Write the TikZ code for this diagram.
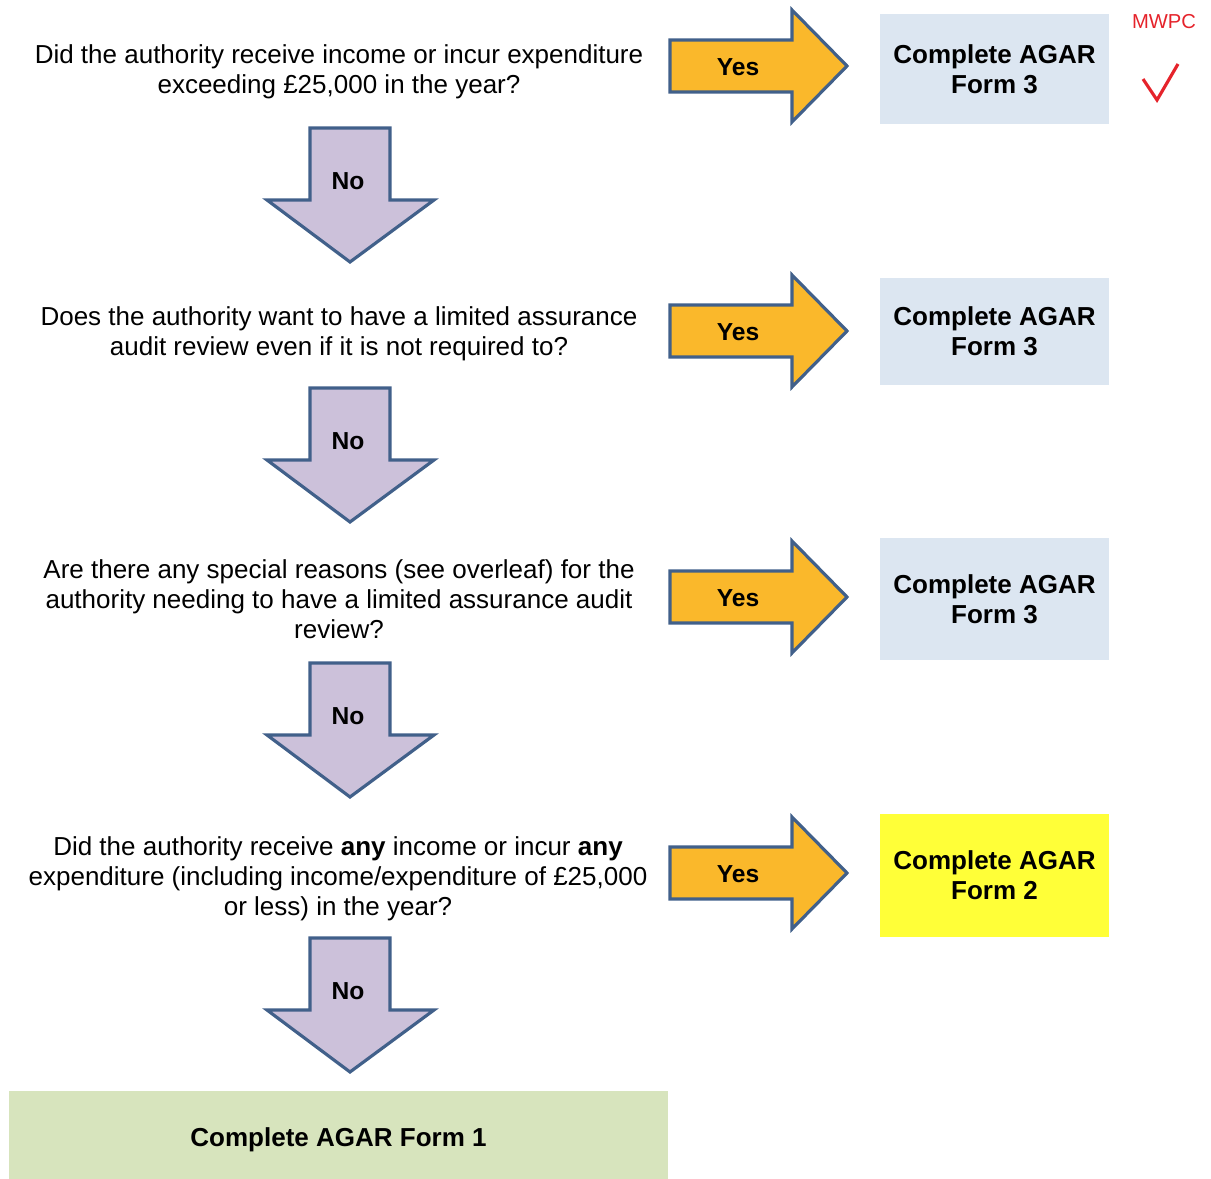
\documentclass[tikz,border=0pt]{standalone}
\usepackage{fontspec}
\setmainfont{Liberation Sans}
\usetikzlibrary{positioning}

\definecolor{arrowline}{HTML}{41608A}
\definecolor{yesfill}{HTML}{FAB82B}
\definecolor{nofill}{HTML}{CCC1DA}
\definecolor{formblue}{HTML}{DCE6F1}
\definecolor{formgreen}{HTML}{D7E4BD}
\definecolor{formyellow}{HTML}{FFFF38}
\definecolor{markred}{HTML}{E5232B}

\tikzset{
  question/.style={align=center, font=\fontsize{14.8}{17}\selectfont},
  formbox/.style={fill=formblue, minimum width=4.58cm, align=center,
    font=\bfseries\fontsize{14.8}{17}\selectfont},
  yesarrow/.style={draw=arrowline, fill=yesfill, line width=1.8pt},
  noarrow/.style={draw=arrowline, fill=nofill, line width=1.8pt},
  arrowlabel/.style={font=\bfseries\fontsize{14}{17}\selectfont}
}

\begin{document}
\begin{tikzpicture}[x=0.02cm,y=-0.02cm]
\useasboundingbox (0,0) rectangle (1211,1179);

% questions
\node[question] (q1) at (339,72) {Did the authority receive income or incur expenditure\\exceeding £25,000 in the year?};
\node[question] (q2) at (339,334) {Does the authority want to have a limited assurance\\audit review even if it is not required to?};
\node[question] (q3) at (339,599) {Are there any special reasons (see overleaf) for the\\authority needing to have a limited assurance audit\\review?};
\node[question] (q4) at (338,879) {Did the authority receive \textbf{any} income or incur \textbf{any}\\expenditure (including income/expenditure of £25,000\\or less) in the year?};

% yes arrows
\foreach \cy/\i in {66/1,331/2,597/3,873/4} {
  \draw[yesarrow] (670,\cy-26) -- (792,\cy-26) -- (792,\cy-56) -- (847,\cy)
    -- (792,\cy+56) -- (792,\cy+26) -- (670,\cy+26) -- cycle;
  \node[arrowlabel] (yes\i) at (738,\cy+1) {Yes};
}

% no arrows
\foreach \ty/\i in {128/1,388/2,663/3,938/4} {
  \draw[noarrow] (310,\ty) -- (390,\ty) -- (390,\ty+72) -- (434,\ty+72)
    -- (350,\ty+134) -- (267,\ty+72) -- (310,\ty+72) -- cycle;
  \node[arrowlabel] (no\i) at (348,\ty+53) {No};
}

% forms
\node[formbox, minimum height=2.2cm] (f1) at (994.5,69) {Complete AGAR\\Form 3};
\node[formbox, minimum height=2.14cm] (f2) at (994.5,331.5) {Complete AGAR\\Form 3};
\node[formbox, minimum height=2.44cm] (f3) at (994.5,599) {Complete AGAR\\Form 3};
\node[formbox, fill=formyellow, minimum height=2.46cm] (f4) at (994.5,875.5) {Complete AGAR\\Form 2};
\node[formbox, fill=formgreen, minimum width=13.18cm, minimum height=1.96cm] (f0) at (338.5,1140) {Complete AGAR Form 1};

% annotation
\node[text=markred, font=\fontsize{11.5}{14}\selectfont] (mwpc) at (1164,22) {MWPC};
\draw[markred, line width=1.8pt] (1143,79) -- (1157,100) -- (1178,64);
\end{tikzpicture}
\end{document}
